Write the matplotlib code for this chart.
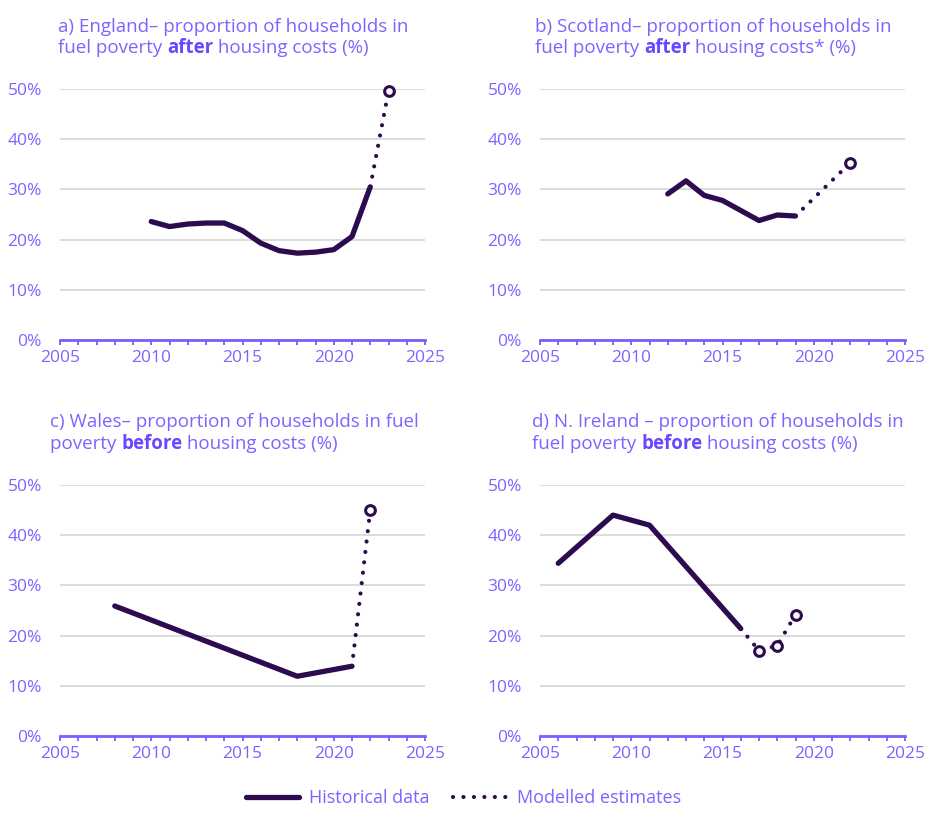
import numpy as np
import matplotlib
matplotlib.use("Agg")
import matplotlib.pyplot as plt
from matplotlib.lines import Line2D

plt.rcParams['font.family'] = ['Open Sans', 'DejaVu Sans']

# fuel poverty rates (%), historical and modelled, by nation
eng_years = [2010, 2011, 2012, 2013, 2014, 2015, 2016, 2017, 2018, 2019, 2020, 2021, 2022]
eng_hist = [23.6, 22.6, 23.1, 23.3, 23.3, 21.8, 19.3, 17.8, 17.3, 17.5, 18.0, 20.6, 30.5]
eng_model_years = [2023]
eng_model = [49.6]

sco_years = [2012, 2013, 2014, 2015, 2016, 2017, 2018, 2019]
sco_hist = [29.1, 31.7, 28.8, 27.8, 25.8, 23.8, 24.9, 24.7]
sco_model_years = [2022]
sco_model = [35.3]

wal_years = [2008, 2018, 2021]
wal_hist = [25.9, 11.9, 13.9]
wal_model_years = [2022]
wal_model = [45.0]

ni_years = [2006, 2009, 2011, 2016]
ni_hist = [34.4, 44.0, 42.0, 21.4]
ni_model_years = [2017, 2018, 2019]
ni_model = [17.0, 18.0, 24.2]

titles = [
    [("a) England\u2013 proportion of households in", "normal")],
    [("b) Scotland\u2013 proportion of households in", "normal")],
    [("c) Wales\u2013 proportion of households in fuel", "normal")],
    [("d) N. Ireland \u2013 proportion of households in", "normal")],
]
subtitles = [
    [("fuel poverty ", "normal"), ("after", "bold"), (" housing costs (%)", "normal")],
    [("fuel poverty ", "normal"), ("after", "bold"), (" housing costs* (%)", "normal")],
    [("poverty ", "normal"), ("before", "bold"), (" housing costs (%)", "normal")],
    [("fuel poverty ", "normal"), ("before", "bold"), (" housing costs (%)", "normal")],
]

TEXT = "#7f62ff"
BOLD = "#6a46ff"
AXIS = "#7a5cff"
LINE = "#2c0b4e"
GRID = "#d9d9d9"

W, H = 927, 813
fig = plt.figure(figsize=(W / 100, H / 100), dpi=100)
renderer = fig.canvas.get_renderer()

# axes boxes in pixels: left, bottom-of-plot (0%), 50% line
boxes = [(60, 340, 89), (540, 340, 89), (60, 736, 485), (540, 736, 485)]
title_pos = [(58, 32, 53), (535, 32, 53), (50, 427, 449), (532, 427, 449)]

series = [
    (eng_years, eng_hist, eng_model_years, eng_model),
    (sco_years, sco_hist, sco_model_years, sco_model),
    (wal_years, wal_hist, wal_model_years, wal_model),
    (ni_years, ni_hist, ni_model_years, ni_model),
]


def text_width(s, weight, size):
    t = fig.text(0, 0, "|" + s + "|", fontsize=size, fontweight=weight)
    w = t.get_window_extent(renderer).width
    t.remove()
    t = fig.text(0, 0, "||", fontsize=size, fontweight=weight)
    w0 = t.get_window_extent(renderer).width
    t.remove()
    return w - w0


def rich_line(x, y, parts, size=13.5):
    for s, weight in parts:
        fig.text(x / W, 1 - y / H, s, fontsize=size, fontweight=weight,
                 color=BOLD if weight == "bold" else TEXT, va="baseline", ha="left")
        x += text_width(s, weight, size)


for i, (left, bottom, top) in enumerate(boxes):
    ax = fig.add_axes([left / W, 1 - bottom / H, 365 / W, (bottom - top) / H])
    years, hist, myears, model = series[i]

    ax.plot(years, hist, color=LINE, lw=3.8, solid_capstyle="round",
            solid_joinstyle="round", zorder=3)
    ax.plot([years[-1]] + myears, [hist[-1]] + model, color=LINE, lw=3,
            linestyle=(0, (0.01, 2.5)), dash_capstyle="round", zorder=3)
    ax.plot(myears, model, linestyle="none", marker="o", markersize=7,
            markerfacecolor="white", markeredgecolor=LINE, markeredgewidth=2.2,
            zorder=4, clip_on=False)

    ax.set_xlim(2005, 2025)
    ax.set_ylim(0, 50)
    ax.set_xticks(range(2005, 2026, 5))
    ax.set_xticks(range(2005, 2026), minor=True)
    ax.set_yticks(range(0, 51, 10))
    ax.set_yticklabels([f"{v}%" for v in range(0, 51, 10)])
    ax.grid(axis="y", color=GRID, lw=1.3)
    ax.set_axisbelow(True)
    for side in ["top", "right", "left"]:
        ax.spines[side].set_visible(False)
    ax.spines["bottom"].set_color(AXIS)
    ax.spines["bottom"].set_linewidth(2)
    ax.tick_params(axis="x", which="both", direction="out", length=3.5,
                   width=1.3, color=AXIS, labelcolor=TEXT, labelsize=12.5, pad=4)
    ax.tick_params(axis="y", length=0, labelcolor=TEXT, labelsize=12.5, pad=13)
    ax.patch.set_alpha(0)

    tx, ty1, ty2 = title_pos[i]
    rich_line(tx, ty1, titles[i])
    rich_line(tx, ty2, subtitles[i])

handles = [
    Line2D([], [], color=LINE, lw=3.8, solid_capstyle="round"),
    Line2D([], [], color=LINE, lw=3, linestyle=(0, (0.01, 2.5)), dash_capstyle="round"),
]
leg = fig.legend(handles, ["Historical data", "Modelled estimates"], loc="lower center",
                 bbox_to_anchor=(0.5, -0.013), ncol=2, frameon=False, fontsize=13,
                 handlelength=2.9, columnspacing=1.3, handletextpad=0.6)
for t in leg.get_texts():
    t.set_color(TEXT)

fig.savefig("out.png", dpi=100)
